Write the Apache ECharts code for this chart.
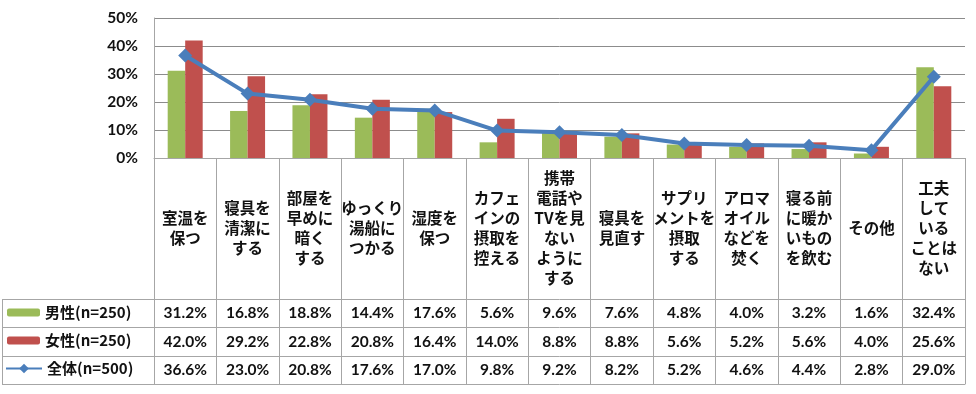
<!DOCTYPE html>
<html><head><meta charset="utf-8">
<script src="https://cdn.jsdelivr.net/npm/echarts@6/dist/echarts.min.js"></script>
<style>html,body{margin:0;padding:0;background:#fff}#c{width:976px;height:394px}</style>
</head><body><div id="c"></div>
<script>
const categories = ['室温を\n保つ','寝具を\n清潔に\nする','部屋を\n早めに\n暗く\nする','ゆっくり\n湯船に\nつかる','湿度を\n保つ','カフェ\nインの\n摂取を\n控える','携帯\n電話や\nTVを見\nない\nように\nする','寝具を\n見直す','サプリ\nメントを\n摂取\nする','アロマ\nオイル\nなどを\n焚く','寝る前\nに暖か\nいもの\nを飲む','その他','工夫\nして\nいる\nことは\nない'];
const male = [31.2,16.8,18.8,14.4,17.6,5.6,9.6,7.6,4.8,4.0,3.2,1.6,32.4];
const female = [42.0,29.2,22.8,20.8,16.4,14.0,8.8,8.8,5.6,5.2,5.6,4.0,25.6];
const total = [36.6,23.0,20.8,17.6,17.0,9.8,9.2,8.2,5.2,4.6,4.4,2.8,29.0];
const seriesNames = ['男性(n=250)','女性(n=250)','全体(n=500)'];
const yTicks = [0,10,20,30,40,50];

const FONT = 'Lato, "Noto Sans CJK JP", sans-serif';
const JP = '"Noto Sans CJK JP", sans-serif';
const LINE = '#a6a6a6';
const fmt = v => v.toFixed(1) + '%';
const rowOffsets = [141, 169, 198];
const rowH = [28, 29, 28];

const chart = echarts.init(document.getElementById('c'));
const rows = [male, female, total];
const xAxes = [{
  type: 'category', data: categories, position: 'bottom', gridIndex: 0,
  axisLine: {show: true, lineStyle: {color: LINE, width: 1}},
  axisTick: {show: true, interval: 0, length: 141, lineStyle: {color: LINE}},
  axisLabel: {interval: 0, margin: 70, verticalAlign: 'middle', fontFamily: JP, fontWeight: 'bold', fontSize: 15.5, lineHeight: 20, color: '#111'}
}];
rows.forEach((r, i) => {
  xAxes.push({
    type: 'category', data: r.map(fmt), position: 'bottom', offset: rowOffsets[i], gridIndex: 0,
    axisLine: {show: true, lineStyle: {color: LINE}},
    axisTick: {show: true, interval: 0, length: rowH[i], lineStyle: {color: LINE}},
    axisLabel: {interval: 0, margin: rowH[i] / 2, verticalAlign: 'middle', fontFamily: FONT, fontWeight: 'bold', fontSize: 15.5, color: '#111'}
  });
});
xAxes.push({
  type: 'category', data: categories.map(() => ''), position: 'bottom', offset: 226, gridIndex: 0,
  axisLine: {show: true, lineStyle: {color: LINE}}, axisTick: {show: false}, axisLabel: {show: false}
});

const legendTops = [305, 333, 361];
const colors = ['#9bbb59', '#c0504d', '#4a7ebb'];

chart.setOption({
  animation: false,
  grid: {left: 154, right: 11, top: 18, bottom: 236, containLabel: false},
  legend: seriesNames.map((n, i) => ({
    data: [n], left: i === 2 ? 5 : 7, top: legendTops[i], orient: 'horizontal', padding: 0,
    itemWidth: i === 2 ? 36 : 33, itemHeight: i === 2 ? 12 : 8, itemGap: 3,
    textStyle: {fontFamily: JP, fontWeight: 'bold', fontSize: 15, color: '#111'},
    selectedMode: false
  })),
  xAxis: xAxes,
  yAxis: {
    type: 'value', min: 0, max: 50, interval: 10,
    axisLine: {show: true, lineStyle: {color: LINE}},
    axisTick: {show: false},
    splitLine: {show: true, lineStyle: {color: '#8c8c8c', width: 1}},
    axisLabel: {formatter: v => v + '%', margin: 16, fontFamily: FONT, fontWeight: 'bold', fontSize: 15.5, color: '#111'}
  },
  series: [
    {name: seriesNames[0], type: 'bar', data: male, barWidth: 17.5, barGap: '0%', itemStyle: {color: colors[0]}},
    {name: seriesNames[1], type: 'bar', data: female, barWidth: 17.5, barGap: '0%', itemStyle: {color: colors[1]}},
    {name: seriesNames[2], type: 'line', data: total, symbol: 'diamond', symbolSize: 14,
     lineStyle: {color: colors[2], width: 4}, itemStyle: {color: colors[2]}, z: 5}
  ],
  graphic: [
    {type: 'line', shape: {x1: 2, y1: 299.5, x2: 154, y2: 299.5}, style: {stroke: LINE, lineWidth: 1}},
    {type: 'line', shape: {x1: 2, y1: 327.5, x2: 154, y2: 327.5}, style: {stroke: LINE, lineWidth: 1}},
    {type: 'line', shape: {x1: 2, y1: 356.5, x2: 154, y2: 356.5}, style: {stroke: LINE, lineWidth: 1}},
    {type: 'line', shape: {x1: 2, y1: 384.5, x2: 154, y2: 384.5}, style: {stroke: LINE, lineWidth: 1}},
    {type: 'line', shape: {x1: 2.5, y1: 299, x2: 2.5, y2: 385}, style: {stroke: LINE, lineWidth: 1}},
    {type: 'line', shape: {x1: 154.5, y1: 299, x2: 154.5, y2: 385}, style: {stroke: LINE, lineWidth: 1}}
  ]
});
</script></body></html>
